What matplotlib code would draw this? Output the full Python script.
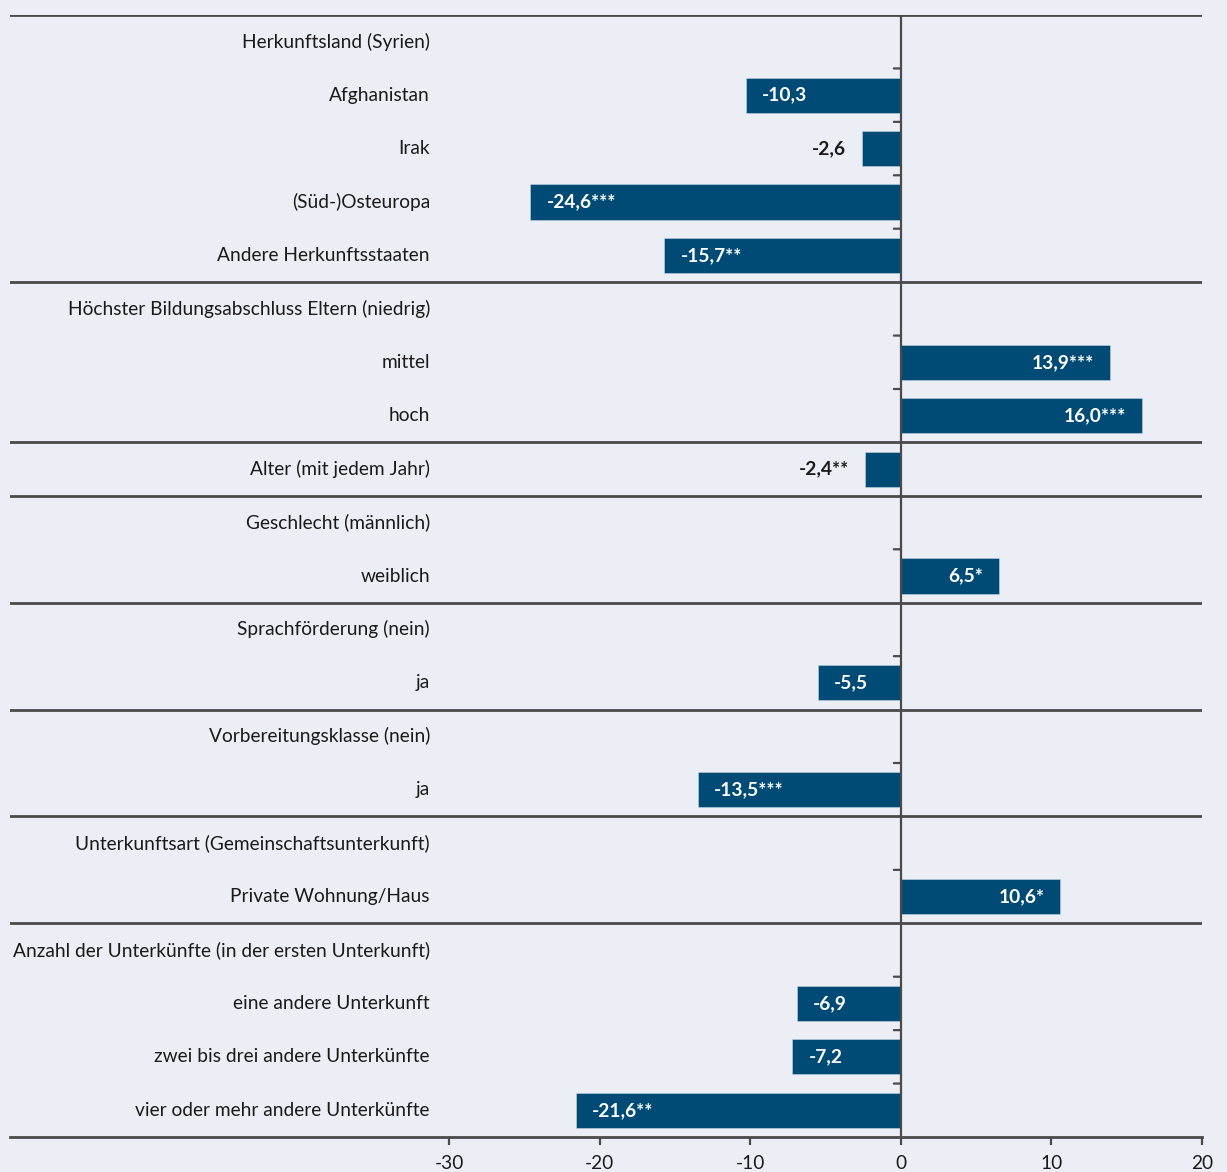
import matplotlib
matplotlib.use("Agg")
import matplotlib.pyplot as plt
from matplotlib.transforms import offset_copy

plt.rcParams['font.family'] = ['Lato', 'DejaVu Sans']

categories = [
    "Herkunftsland (Syrien)", "Afghanistan", "Irak", "(Süd-)Osteuropa", "Andere Herkunftsstaaten",
    "Höchster Bildungsabschluss Eltern (niedrig)", "mittel", "hoch",
    "Alter (mit jedem Jahr)",
    "Geschlecht (männlich)", "weiblich",
    "Sprachförderung (nein)", "ja",
    "Vorbereitungsklasse (nein)", "ja",
    "Unterkunftsart (Gemeinschaftsunterkunft)", "Private Wohnung/Haus",
    "Anzahl der Unterkünfte (in der ersten Unterkunft)", "eine andere Unterkunft",
    "zwei bis drei andere Unterkünfte", "vier oder mehr andere Unterkünfte",
]
values = [None, -10.3, -2.6, -24.6, -15.7,
          None, 13.9, 16.0,
          -2.4,
          None, 6.5,
          None, -5.5,
          None, -13.5,
          None, 10.6,
          None, -6.9, -7.2, -21.6]
significance = ["", "", "", "***", "**",
                "", "***", "***",
                "**",
                "", "*",
                "", "",
                "", "***",
                "", "*",
                "", "", "", "**"]
group_ends = [4, 7, 8, 10, 12, 14, 16]
xticks = [-30, -20, -10, 0, 10, 20]

BG = "#ebeef5"
BAR = "#004a76"
LINE = "#4a4a4a"
TXT = "#1a1a1a"
FS = 13.8

W, H = 1227, 1172
fig = plt.figure(figsize=(W / 100, H / 100), dpi=100, facecolor=BG)
ax = fig.add_axes([10 / W, 1 - 1137 / H, (1202 - 10) / W, (1137 - 15) / H])
ax.set_facecolor(BG)

n = len(categories)
ax.set_xlim(-59.16, 20)
ax.set_ylim(n - 0.5, -0.5)

for i, (v, s) in enumerate(zip(values, significance)):
    if v is None:
        continue
    ax.barh(i, v, height=0.66, color=BAR, edgecolor="#c8d4e0", linewidth=0.4, zorder=2)
    lab = f"{abs(v):.1f}".replace(".", ",")
    lab = ("-" if v < 0 else "") + lab + s
    if abs(v) < 4:
        t = offset_copy(ax.transData, fig=fig, x=-16, y=0, units='dots')
        ax.text(v, i, lab, transform=t, ha="right", va="center", color=TXT,
                fontsize=FS, fontweight="bold", zorder=3)
    elif v < 0:
        t = offset_copy(ax.transData, fig=fig, x=16, y=0, units='dots')
        ax.text(v, i, lab, transform=t, ha="left", va="center", color="white",
                fontsize=FS, fontweight="bold", zorder=3)
    else:
        t = offset_copy(ax.transData, fig=fig, x=-16, y=0, units='dots')
        ax.text(v, i, lab, transform=t, ha="right", va="center", color="white",
                fontsize=FS, fontweight="bold", zorder=3)

for i, c in enumerate(categories):
    ax.text(-31.27, i, c, ha="right", va="center", color=TXT, fontsize=FS, zorder=3)

# separators
for g in [-1] + group_ends:
    ax.axhline(g + 0.5, color=LINE, linewidth=2, zorder=4)
ax.axvline(0, color=LINE, linewidth=1.6, zorder=4)

# small ticks left of zero line at row boundaries
for k in range(n - 1):
    if k in group_ends:
        continue
    ax.annotate("", xy=(0, k + 0.5), xytext=(-7, 0), textcoords="offset pixels",
                arrowprops=dict(arrowstyle="-", color=LINE, lw=1.6, shrinkA=0, shrinkB=0),
                zorder=4)

for sp in ["top", "left", "right"]:
    ax.spines[sp].set_visible(False)
ax.spines["bottom"].set_color(LINE)
ax.spines["bottom"].set_linewidth(2)
ax.set_yticks([])
ax.set_xticks(xticks)
ax.set_xticklabels([str(x) for x in xticks])
ax.tick_params(axis="x", direction="out", length=6, width=1.6, color=LINE,
               labelsize=FS, labelcolor=TXT, pad=7)

fig.savefig("out.png", dpi=100, facecolor=BG)
